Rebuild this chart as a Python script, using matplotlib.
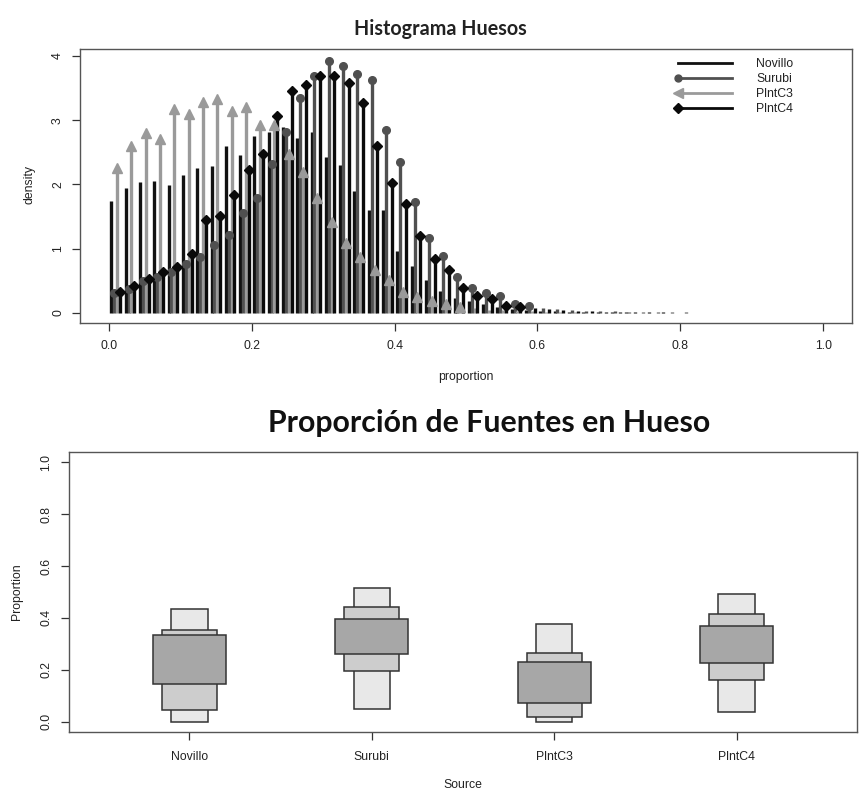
import numpy as np
import matplotlib
matplotlib.use('Agg')
import matplotlib.pyplot as plt
from matplotlib.lines import Line2D
from matplotlib.legend_handler import HandlerBase

plt.rcParams['font.family'] = ['Liberation Sans', 'DejaVu Sans']

# ---------------- data ----------------
series_names = ['Novillo', 'Surubi', 'PlntC3', 'PlntC4']
bin_width = 0.02
n_bins = 41

novillo = [1.74, 1.95, 2.03, 2.05, 1.99, 2.15, 2.26, 2.28, 2.60, 2.46,
           2.76, 2.81, 2.90, 2.72, 2.81, 2.43, 2.30, 1.89, 1.60, 1.60,
           0.96, 0.73, 0.51, 0.34, 0.23, 0.19, 0.14, 0.09, 0.06, 0.04,
           0.03, 0.02, 0.015, 0.01, 0.01, 0.005, 0.005, 0, 0, 0, 0]
surubi = [0.30, 0.375, 0.49, 0.56, 0.64, 0.76, 0.87, 1.06, 1.21, 1.55,
          1.79, 2.32, 2.82, 3.35, 3.69, 3.93, 3.84, 3.72, 3.63, 2.85,
          2.35, 1.72, 1.17, 0.88, 0.56, 0.39, 0.31, 0.26, 0.14, 0.10,
          0.08, 0.06, 0.04, 0.03, 0.02, 0.02, 0.015, 0.01, 0.01, 0.005, 0.005]
plntc3 = [2.25, 2.60, 2.80, 2.71, 3.18, 3.10, 3.28, 3.33, 3.15, 3.21,
          2.93, 2.92, 2.47, 2.20, 1.79, 1.42, 1.09, 0.87, 0.67, 0.51,
          0.32, 0.24, 0.19, 0.14, 0.09, 0.07, 0.05, 0.04, 0.03, 0.02,
          0.01, 0.01, 0.005, 0, 0, 0, 0, 0, 0, 0, 0]
plntc4 = [0.32, 0.42, 0.53, 0.64, 0.71, 0.92, 1.45, 1.51, 1.84, 2.22,
          2.48, 3.06, 3.46, 3.55, 3.69, 3.69, 3.58, 3.27, 2.60, 2.02,
          1.69, 1.19, 0.83, 0.66, 0.39, 0.26, 0.22, 0.11, 0.09, 0.07,
          0.06, 0.04, 0.03, 0.02, 0.015, 0.01, 0.01, 0.005, 0.005, 0, 0]

hist_xticks = [0.0, 0.2, 0.4, 0.6, 0.8, 1.0]
hist_yticks = [0, 1, 2, 3, 4]

sources = ['Novillo', 'Surubi', 'PlntC3', 'PlntC4']
lo95 = [0.000, 0.048, 0.000, 0.039]
hi95 = [0.433, 0.514, 0.377, 0.494]
lo75 = [0.045, 0.197, 0.019, 0.161]
hi75 = [0.353, 0.443, 0.266, 0.415]
lo50 = [0.145, 0.261, 0.073, 0.225]
hi50 = [0.333, 0.396, 0.229, 0.368]
box_yticks = [0.0, 0.2, 0.4, 0.6, 0.8, 1.0]

# ---------------- figure ----------------
W, H = 865, 802
fig = plt.figure(figsize=(W / 100, H / 100), dpi=100)


def fx(px):
    return px / W


def fy(py):
    return 1 - py / H


FS = 8.8
EDGE = '#333333'

# ---------------- top: histogram ----------------
ax1 = fig.add_axes([fx(80), fy(323), fx(852) - fx(80), fy(49) - fy(323)])
centers = (np.arange(n_bins) + 0.5) * bin_width
styles = [
    # values, offset, color, marker, markersize
    (novillo, -0.006, '#111111', None, 0),
    (surubi, -0.002, '#505050', 'o', 5.5),
    (plntc3, 0.002, '#9a9a9a', '^', 6.5),
    (plntc4, 0.006, '#0a0a0a', 'D', 5.0),
]
for vals, off, col, mk, ms in styles:
    v = np.asarray(vals, dtype=float)
    x = centers + off
    keep = v > 0
    ax1.vlines(x[keep], 0, v[keep], colors=col, lw=2.4, zorder=2)
    if mk is not None:
        mm = v >= 0.085
        ax1.plot(x[mm], v[mm], ls='none', marker=mk, ms=ms, color=col,
                 mec=col, zorder=3)

ax1.set_xlim(-0.04, 1.04)
ax1.set_ylim(-0.16, 4.11)
ax1.set_xticks(hist_xticks)
ax1.set_xticklabels([f'{t:.1f}' for t in hist_xticks])
ax1.set_yticks(hist_yticks)
ax1.set_yticklabels([str(t) for t in hist_yticks])
ax1.tick_params(axis='both', length=5.5, width=0.9, color=EDGE,
                labelsize=FS, labelcolor='#222222')
ax1.tick_params(axis='x', pad=7)
ax1.tick_params(axis='y', pad=6, labelrotation=90)
for t in ax1.get_yticklabels():
    t.set_verticalalignment('center')
for s in ax1.spines.values():
    s.set_color('#555555')
    s.set_linewidth(1.0)


class HandlerLeftMarker(HandlerBase):
    def create_artists(self, legend, orig_handle, xdescent, ydescent,
                       width, height, fontsize, trans):
        y = height / 2 - ydescent
        col = orig_handle.get_color()
        line = Line2D([-xdescent, width - xdescent], [y, y], color=col,
                      lw=orig_handle.get_linewidth(), transform=trans)
        arts = [line]
        m = orig_handle.get_marker()
        if m not in (None, 'None', '', ' '):
            mk = Line2D([-xdescent], [y], marker=m, color=col, mec=col,
                        ms=orig_handle.get_markersize(), ls='none',
                        transform=trans)
            arts.append(mk)
        return arts


handles = [
    Line2D([], [], color='#111111', lw=2.0),
    Line2D([], [], color='#505050', lw=2.0, marker='o', ms=5),
    Line2D([], [], color='#9a9a9a', lw=2.0, marker='<', ms=7),
    Line2D([], [], color='#0a0a0a', lw=2.0, marker='D', ms=5),
]
leg = ax1.legend(handles, series_names, loc='upper left',
                 bbox_to_anchor=((678 - 80) / 772, 1 - (58 - 49) / 274),
                 frameon=False, fontsize=FS, handlelength=4.4,
                 handletextpad=2.0, labelspacing=0.24, borderpad=0,
                 borderaxespad=0,
                 handler_map={Line2D: HandlerLeftMarker()})
for t in leg.get_texts():
    t.set_color('#222222')

fig.text(fx(440), fy(35), 'Histograma Huesos', ha='center', va='baseline',
         fontsize=14.2, fontweight='bold', family=['Lato', 'DejaVu Sans'],
         color='#222222')
fig.text(fx(466), fy(377), 'proportion', ha='center', va='center',
         fontsize=FS, color='#222222')
fig.text(fx(29), fy(184), 'density', ha='center', va='center',
         rotation=90, fontsize=FS, color='#222222')

# ---------------- bottom: interval boxes ----------------
ax2 = fig.add_axes([fx(69), fy(732), fx(857) - fx(69), fy(452) - fy(732)])
xpos = np.arange(1, len(sources) + 1)
h95 = np.asarray(hi95) - np.asarray(lo95)
h75 = np.asarray(hi75) - np.asarray(lo75)
h50 = np.asarray(hi50) - np.asarray(lo50)
ax2.bar(xpos, h95, bottom=lo95, width=0.2, color='#e8e8e8',
        edgecolor=EDGE, linewidth=1.1, zorder=2)
ax2.bar(xpos, h75, bottom=lo75, width=0.3, color='#cdcdcd',
        edgecolor=EDGE, linewidth=1.1, zorder=3)
ax2.bar(xpos, h50, bottom=lo50, width=0.4, color='#a7a7a7',
        edgecolor=EDGE, linewidth=1.1, zorder=4)
ax2.set_xlim(0.34, 4.66)
ax2.set_ylim(-0.04, 1.04)
ax2.set_xticks(xpos)
ax2.set_xticklabels(sources)
ax2.set_yticks(box_yticks)
ax2.set_yticklabels([f'{t:.1f}' for t in box_yticks])
ax2.tick_params(axis='both', length=6, width=0.9, color=EDGE,
                labelsize=FS, labelcolor='#222222')
ax2.tick_params(axis='x', pad=8)
ax2.tick_params(axis='y', pad=6, labelrotation=90)
for t in ax2.get_yticklabels():
    t.set_verticalalignment('center')
for s in ax2.spines.values():
    s.set_color('#555555')
    s.set_linewidth(1.0)

fig.text(fx(489), fy(432), 'Proporción de Fuentes en Hueso', ha='center',
         va='baseline', fontsize=21.8, fontweight='bold',
         family=['Lato', 'DejaVu Sans'], color='#111111')
fig.text(fx(463), fy(785), 'Source', ha='center', va='center',
         fontsize=FS, color='#222222')
fig.text(fx(17), fy(592), 'Proportion', ha='center', va='center',
         rotation=90, fontsize=FS, color='#222222')

fig.savefig('out.png', dpi=100)
